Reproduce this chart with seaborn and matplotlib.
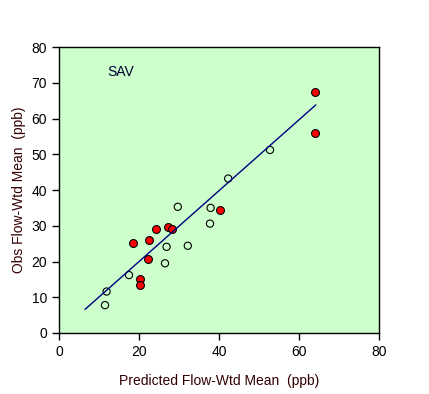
import matplotlib
matplotlib.use('Agg')
import matplotlib.pyplot as plt
import pandas as pd
import seaborn as sb

# observed vs predicted flow-weighted means (ppb)
open_x = [11.5, 11.9, 17.5, 26.5, 26.9, 32.2, 29.7, 37.9, 37.75, 42.3, 52.75]
open_y = [7.8, 11.6, 16.2, 19.5, 24.1, 24.4, 35.3, 35.0, 30.6, 43.2, 51.2]
red_x = [18.6, 22.6, 22.2, 24.2, 27.2, 28.25, 20.25, 20.25, 40.25, 64.0, 64.0]
red_y = [25.3, 26.0, 20.7, 29.1, 29.7, 29.1, 15.0, 13.4, 34.4, 67.5, 56.0]

# fitted line end points
fit_x = [6.5, 64.2]
fit_y = [6.6, 63.8]

df_open = pd.DataFrame({'pred': open_x, 'obs': open_y})
df_red = pd.DataFrame({'pred': red_x, 'obs': red_y})
df_fit = pd.DataFrame({'pred': fit_x, 'obs': fit_y})

sb.set_style('ticks')
plt.rcParams['font.family'] = ['Liberation Sans', 'DejaVu Sans']

fig = plt.figure(figsize=(4.29, 3.94), dpi=100)
ax = fig.add_axes([59 / 429, 61 / 394, 320 / 429, 286 / 394])
ax.set_facecolor('#CCFFCC')

sb.lineplot(data=df_fit, x='pred', y='obs', color='#000080', linewidth=1, ax=ax)
sb.scatterplot(data=df_open, x='pred', y='obs', marker='o', s=27,
               facecolor='none', edgecolor='black', linewidth=0.8, ax=ax)
sb.scatterplot(data=df_red, x='pred', y='obs', marker='o', s=32,
               color='red', edgecolor='black', linewidth=0.8, ax=ax)

ax.set_xlim(0, 80)
ax.set_ylim(0, 80)
ax.set_xticks([0, 20, 40, 60, 80])
ax.set_yticks(range(0, 81, 10))
ax.tick_params(direction='out', length=5, width=1, colors='black', labelsize=10)
for s in ax.spines.values():
    s.set_color('black')
    s.set_linewidth(1)

ax.set_xlabel('Predicted Flow-Wtd Mean  (ppb)', fontsize=10, color='#330000', labelpad=11)
ax.set_ylabel('Obs Flow-Wtd Mean  (ppb)', fontsize=10, color='#330000', labelpad=4)
ax.text(12, 72, 'SAV', fontsize=10, color='#000033')

fig.savefig('out.png', dpi=100)
